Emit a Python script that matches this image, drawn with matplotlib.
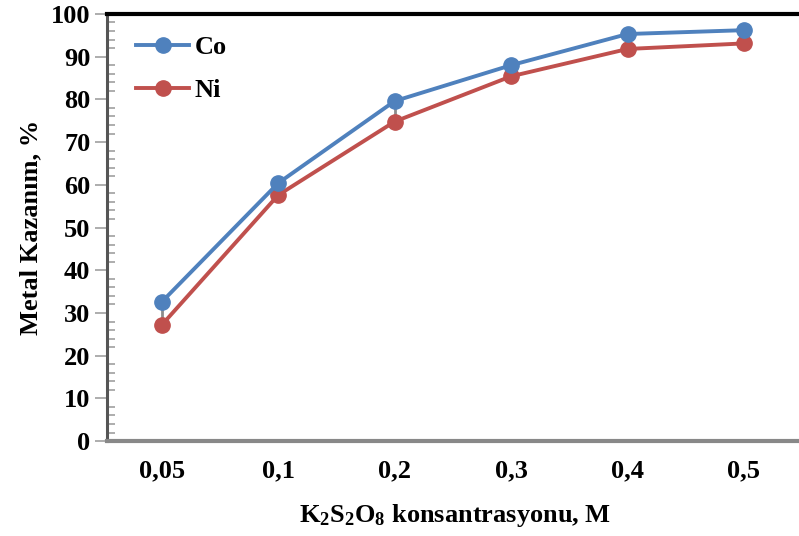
import matplotlib
matplotlib.use("Agg")
import matplotlib.pyplot as plt
from matplotlib.ticker import MultipleLocator

plt.rcParams['font.family'] = ['Liberation Serif', 'DejaVu Serif']
plt.rcParams['font.weight'] = 'bold'
plt.rcParams['mathtext.fontset'] = 'custom'
plt.rcParams['mathtext.rm'] = 'Liberation Serif:bold'
plt.rcParams['mathtext.it'] = 'Liberation Serif:bold'
plt.rcParams['mathtext.bf'] = 'Liberation Serif:bold'

concentrations = ["0,05", "0,1", "0,2", "0,3", "0,4", "0,5"]
co_values = [32.6, 60.4, 79.6, 88.0, 95.3, 96.2]
ni_values = [27.2, 57.6, 74.8, 85.4, 91.8, 93.1]

x = list(range(len(concentrations)))
# gray error bars drawn between the two series
err_low = [0] * len(x)
err_up = [c - n for c, n in zip(co_values, ni_values)]

fig = plt.figure(figsize=(7.99, 5.36), dpi=100)
ax = fig.add_axes([0.134, 0.177, 0.87, 0.797])

ax.errorbar(x, ni_values, yerr=[err_low, err_up], fmt='none', ecolor='#8c8c8c',
            elinewidth=2, capsize=0, zorder=1)
ax.plot(x, co_values, color='#4F81BD', lw=2.8, marker='o', markersize=11, label='Co', zorder=3)
ax.plot(x, ni_values, color='#C0504D', lw=2.8, marker='o', markersize=11, label='Ni', zorder=2)

ax.set_xlim(-0.47, 5.5)
ax.set_ylim(0, 100)
ax.set_xticks(x)
ax.set_xticklabels(concentrations)
ax.yaxis.set_major_locator(MultipleLocator(10))
ax.yaxis.set_minor_locator(MultipleLocator(2))

ax.tick_params(axis='x', length=0, labelsize=19, pad=13)
ax.tick_params(axis='y', which='major', direction='out', length=9, width=1.2,
               color='#a0a0a0', labelsize=19, pad=3)
ax.tick_params(axis='y', which='minor', direction='in', length=6, width=1.2, color='#a0a0a0')

ax.spines['top'].set_color('black')
ax.spines['top'].set_linewidth(3)
ax.spines['left'].set_color('#555555')
ax.spines['left'].set_linewidth(2.2)
ax.spines['bottom'].set_color('#888888')
ax.spines['bottom'].set_linewidth(3)
ax.spines['right'].set_visible(False)

ax.set_xlabel("K$_2$S$_2$O$_8$ konsantrasyonu, M", fontsize=19, fontweight='bold', labelpad=14)
ax.set_ylabel("Metal Kazanım, %", fontsize=19, fontweight='bold', labelpad=6)

leg = ax.legend(loc='upper left', bbox_to_anchor=(0.008, 1.005), frameon=False,
                fontsize=19, labelspacing=0.75, handlelength=2.0, handletextpad=0.2)

fig.savefig("out.png", dpi=100)
